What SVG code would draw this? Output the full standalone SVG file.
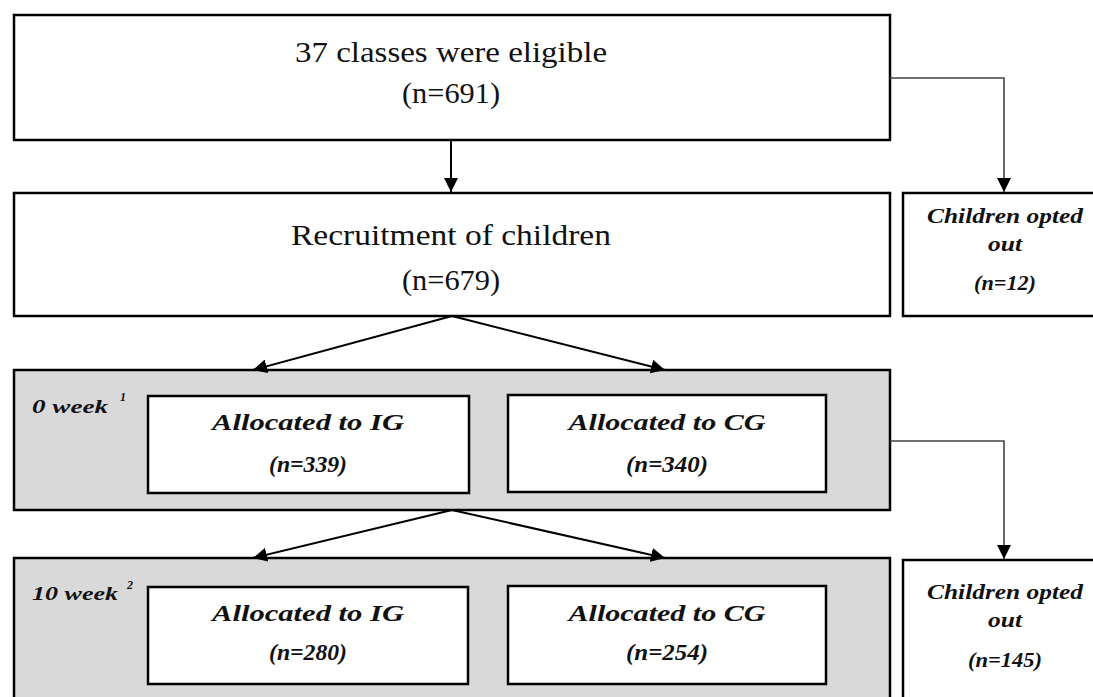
<svg xmlns="http://www.w3.org/2000/svg" width="1093" height="697" viewBox="0 0 1093 697">
<style>
.box{fill:#fff;stroke:#000;stroke-width:2.5}
.gray{fill:#d9d9d9;stroke:#000;stroke-width:2.5}
text{font-family:"Liberation Serif","Times New Roman","DejaVu Serif",serif;fill:#111}
.main{font-size:30px;text-anchor:middle}
.it{font-size:24px;font-style:italic;font-weight:bold;text-anchor:middle}
.side{font-size:21px;font-style:italic;font-weight:bold;text-anchor:middle}
.wk{font-size:18px;font-style:italic;font-weight:bold}
.sup{font-size:12px;font-style:italic;font-weight:bold}
.conn{fill:none;stroke:#000;stroke-width:2}
.conn2{fill:none;stroke:#444;stroke-width:1.6}
</style>
<defs>
<marker id="ah2" markerWidth="14" markerHeight="14" refX="14" refY="7" orient="auto" markerUnits="userSpaceOnUse" viewBox="0 0 14 14">
<path d="M0,0 L14,7 L0,14 Z" fill="#000"/>
</marker>
</defs>

<g id="node-eligible">
<rect class="box" x="14" y="15" width="876" height="125"/>
<text class="main" x="451" y="62" textLength="312" lengthAdjust="spacingAndGlyphs">37 classes were eligible</text>
<text class="main" x="451" y="103" textLength="98" lengthAdjust="spacingAndGlyphs">(n=691)</text>
</g>

<g id="node-recruitment">
<rect class="box" x="14" y="193" width="876" height="123"/>
<text class="main" x="451" y="245" textLength="320" lengthAdjust="spacingAndGlyphs">Recruitment of children</text>
<text class="main" x="451" y="290" textLength="98" lengthAdjust="spacingAndGlyphs">(n=679)</text>
</g>

<g id="node-optout1">
<rect class="box" x="903" y="193" width="195" height="123"/>
<text class="side" x="1005" y="223" textLength="156" lengthAdjust="spacingAndGlyphs">Children opted</text>
<text class="side" x="1005" y="251" textLength="34" lengthAdjust="spacingAndGlyphs">out</text>
<text class="side" x="1005" y="290" font-size="19" textLength="62" lengthAdjust="spacingAndGlyphs">(n=12)</text>
</g>

<g id="node-week0">
<rect class="gray" x="14" y="370" width="876" height="140"/>
<text class="wk" x="32" y="413" textLength="76" lengthAdjust="spacingAndGlyphs">0 week</text>
<text class="sup" x="120" y="401">1</text>
</g>

<g id="node-ig0">
<rect class="box" x="148" y="396" width="321" height="97"/>
<text class="it" x="308" y="430" textLength="192" lengthAdjust="spacingAndGlyphs">Allocated to IG</text>
<text class="it" x="308" y="472" font-size="21" textLength="78" lengthAdjust="spacingAndGlyphs">(n=339)</text>
</g>

<g id="node-cg0">
<rect class="box" x="508" y="395" width="318" height="97"/>
<text class="it" x="667" y="430" textLength="197" lengthAdjust="spacingAndGlyphs">Allocated to CG</text>
<text class="it" x="667" y="472" font-size="21" textLength="82" lengthAdjust="spacingAndGlyphs">(n=340)</text>
</g>

<g id="node-week10">
<rect class="gray" x="14" y="558" width="876" height="145"/>
<text class="wk" x="32" y="600" textLength="86" lengthAdjust="spacingAndGlyphs">10 week</text>
<text class="sup" x="127" y="589">2</text>
</g>

<g id="node-ig10">
<rect class="box" x="148" y="587" width="320" height="97"/>
<text class="it" x="308" y="621" textLength="192" lengthAdjust="spacingAndGlyphs">Allocated to IG</text>
<text class="it" x="308" y="660" font-size="21" textLength="78" lengthAdjust="spacingAndGlyphs">(n=280)</text>
</g>

<g id="node-cg10">
<rect class="box" x="508" y="586" width="318" height="98"/>
<text class="it" x="667" y="621" textLength="197" lengthAdjust="spacingAndGlyphs">Allocated to CG</text>
<text class="it" x="667" y="660" font-size="21" textLength="82" lengthAdjust="spacingAndGlyphs">(n=254)</text>
</g>

<g id="node-optout2">
<rect class="box" x="903" y="560" width="195" height="145"/>
<text class="side" x="1005" y="599" textLength="156" lengthAdjust="spacingAndGlyphs">Children opted</text>
<text class="side" x="1005" y="627" textLength="34" lengthAdjust="spacingAndGlyphs">out</text>
<text class="side" x="1005" y="667" font-size="19" textLength="74" lengthAdjust="spacingAndGlyphs">(n=145)</text>
</g>

<g id="connectors">
<line class="conn" x1="451" y1="140" x2="451" y2="192" marker-end="url(#ah2)"/>
<polyline class="conn2" points="890,78 1004,78 1004,192" marker-end="url(#ah2)"/>
<line class="conn" x1="452" y1="316" x2="253" y2="370" marker-end="url(#ah2)"/>
<line class="conn" x1="452" y1="316" x2="665" y2="370" marker-end="url(#ah2)"/>
<polyline class="conn2" points="890,441 1004,441 1004,559" marker-end="url(#ah2)"/>
<line class="conn" x1="452" y1="510" x2="253" y2="558" marker-end="url(#ah2)"/>
<line class="conn" x1="452" y1="510" x2="665" y2="558" marker-end="url(#ah2)"/>
</g>
</svg>
